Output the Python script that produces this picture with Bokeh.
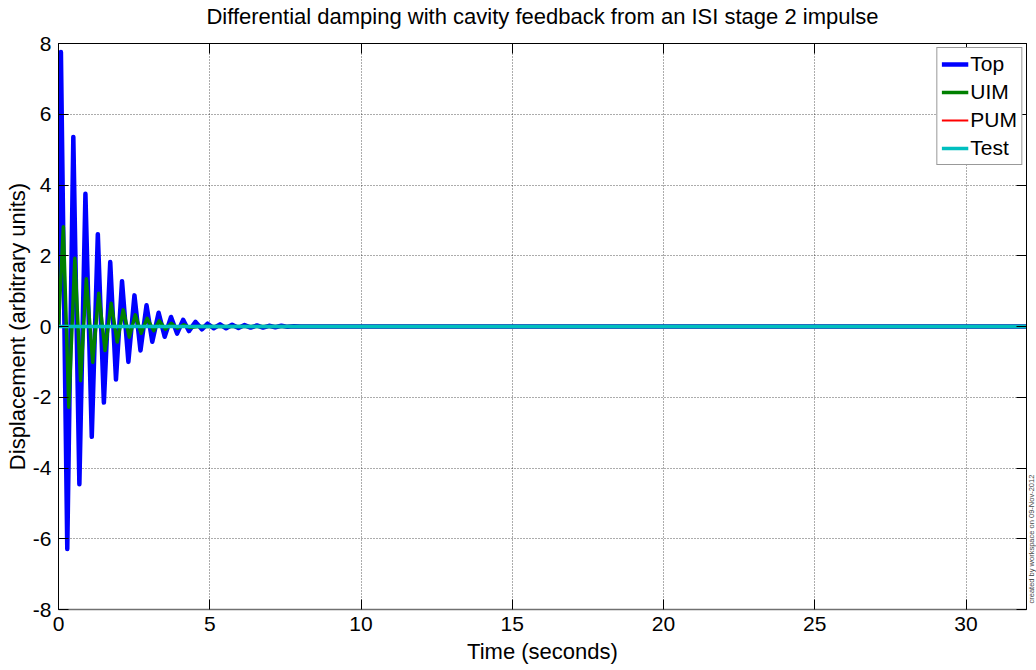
import math
from bokeh.plotting import figure
from bokeh.layouts import column, row
from bokeh.models import (Range1d, LinearAxis, FixedTicker, Legend, LegendItem,
                          Label, CustomJSTickFormatter)
from bokeh.embed import file_html
from bokeh.resources import INLINE

FONT = "Liberation Sans"

title_text = "Differential damping with cavity feedback from an ISI stage 2 impulse"
x_label = "Time (seconds)"
y_label = "Displacement (arbitrary units)"
stamp_text = "created by workspace on 09-Nov-2012"

x_ticks = [0, 5, 10, 15, 20, 25, 30]
y_ticks = [-8, -6, -4, -2, 0, 2, 4, 6, 8]

# Top mass: successive extrema
top_t = [0.0, 0.08, 0.29, 0.49, 0.69, 0.89, 1.10, 1.30, 1.50, 1.71, 1.90, 2.10, 2.31,
         2.51, 2.71, 2.91, 3.10, 3.31, 3.51, 3.72, 3.92, 4.12, 4.31, 4.53, 4.74,
         4.93, 5.13, 5.34, 5.54, 5.74, 5.95, 6.15, 6.35, 6.56, 6.76, 6.96, 7.17,
         7.37, 7.57, 7.78, 8.0, 32.0]
top_v = [0.0, 7.76, -6.29, 5.36, -4.46, 3.75, -3.12, 2.61, -2.15, 1.82, -1.50, 1.28,
         -1.00, 0.88, -0.68, 0.60, -0.43, 0.39, -0.29, 0.27, -0.20, 0.19, -0.13,
         0.13, -0.08, 0.08, -0.05, 0.06, -0.05, 0.05, -0.04, 0.04, -0.03, 0.03,
         -0.03, 0.02, -0.02, 0.02, -0.01, 0.01, 0.0, 0.0]

# UIM mass
uim_t = [0.0, 0.16, 0.34, 0.54, 0.73, 0.92, 1.13, 1.33, 1.54, 1.74, 1.94, 2.14, 2.34,
         2.54, 2.73, 2.93, 3.15, 3.33, 3.54, 3.73, 3.94, 4.14, 4.35, 4.6, 32.0]
uim_v = [0.0, 2.82, -2.28, 1.93, -1.53, 1.35, -1.01, 0.94, -0.68, 0.66, -0.44, 0.47,
         -0.30, 0.33, -0.19, 0.23, -0.12, 0.16, -0.08, 0.09, -0.05, 0.05, -0.03, 0.0, 0.0]

# PUM and Test masses stay at zero on this scale
pum_t = [0.0, 32.0]
pum_v = [0.0, 0.0]
test_t = [0.0, 32.0]
test_v = [0.0, 0.0]

TITLE_H = 30
MAIN_W, MAIN_H = 1027, 670 - TITLE_H
STAMP_W = 9

# ---- title strip -------------------------------------------------------
title_fig = figure(width=1036, height=TITLE_H, output_backend="svg",
                   toolbar_location=None, x_range=Range1d(0, 1), y_range=Range1d(0, 1),
                   x_axis_type=None, y_axis_type=None, min_border=0,
                   outline_line_color=None, background_fill_color="white",
                   border_fill_color="white")
title_fig.add_layout(Label(x=542 / 1036, y=(TITLE_H - 16) / TITLE_H, text=title_text,
                           text_font=FONT, text_font_size="22px",
                           text_align="center", text_baseline="middle",
                           text_color="black"))

# ---- main plot ----------------------------------------------------------
p = figure(width=MAIN_W, height=MAIN_H, output_backend="svg", toolbar_location=None,
           x_range=Range1d(0, 32), y_range=Range1d(-8, 8),
           min_border_left=58, min_border_right=1, min_border_top=43 - TITLE_H,
           min_border_bottom=61, background_fill_color="white",
           border_fill_color="white", outline_line_color="black")

r_top = p.line(top_t, top_v, line_color="#0000FF", line_width=4.5, line_join="round")
r_uim = p.line(uim_t, uim_v, line_color="#008000", line_width=3.5, line_join="round")
r_pum = p.line(pum_t, pum_v, line_color="#FF0000", line_width=2)
r_test = p.line(test_t, test_v, line_color="#00BFBF", line_width=3.5)

plain = CustomJSTickFormatter(code="return String(tick)")
for ax in (p.xaxis[0], p.yaxis[0]):
    ax.formatter = plain
    ax.major_label_text_font = FONT
    ax.major_label_text_font_size = "21px"
    ax.major_label_text_color = "black"
    ax.axis_label_text_font = FONT
    ax.axis_label_text_font_size = "22px"
    ax.axis_label_text_font_style = "normal"
    ax.axis_label_text_color = "black"
    ax.major_tick_in = 10
    ax.major_tick_out = 0
    ax.minor_tick_in = 0
    ax.minor_tick_out = 0
    ax.major_tick_line_color = "black"
    ax.axis_line_color = "black"

p.xaxis[0].ticker = FixedTicker(ticks=x_ticks)
p.yaxis[0].ticker = FixedTicker(ticks=y_ticks)
p.xaxis[0].axis_label = x_label
p.yaxis[0].axis_label = y_label
p.xaxis[0].major_label_standoff = 7
p.xaxis[0].axis_label_standoff = 5
p.yaxis[0].major_label_standoff = 7
p.yaxis[0].axis_label_standoff = 0
p.xaxis[0].axis_line_color = "#707070"
p.xaxis[0].axis_line_width = 1.5

blank = CustomJSTickFormatter(code="return ''")
for place, tk in (("above", x_ticks), ("right", y_ticks)):
    ax = LinearAxis(ticker=FixedTicker(ticks=tk), formatter=blank,
                    major_tick_in=10, major_tick_out=0, minor_tick_in=0,
                    minor_tick_out=0, major_label_standoff=0,
                    major_label_text_font_size="1px", axis_line_color="black")
    p.add_layout(ax, place)

p.xgrid.ticker = FixedTicker(ticks=x_ticks)
p.ygrid.ticker = FixedTicker(ticks=y_ticks)
for g in (p.xgrid[0], p.ygrid[0]):
    g.grid_line_color = "black"
    g.grid_line_alpha = 0.65
    g.grid_line_dash = "1 2"
    g.grid_line_width = 1

legend = Legend(items=[LegendItem(label="Top", renderers=[r_top]),
                       LegendItem(label="UIM", renderers=[r_uim]),
                       LegendItem(label="PUM", renderers=[r_pum]),
                       LegendItem(label="Test", renderers=[r_test])],
                location="top_right", margin=4, padding=4, spacing=4,
                label_height=20, glyph_height=20, glyph_width=27,
                label_standoff=2, label_text_font=FONT, label_text_font_size="21px",
                label_text_color="black", border_line_color="#333333",
                border_line_width=1, background_fill_color="white",
                background_fill_alpha=1.0)
p.add_layout(legend)

# ---- narrow strip with the vertical creation stamp ---------------------
stamp_fig = figure(width=STAMP_W, height=MAIN_H, output_backend="svg",
                   toolbar_location=None, x_range=Range1d(0, 1), y_range=p.y_range,
                   x_axis_type=None, y_axis_type=None, min_border=0,
                   outline_line_color=None, background_fill_color="white",
                   border_fill_color="white")
stamp_fig.add_layout(Label(x=0.4, y=-7.83, text=stamp_text, angle=math.pi / 2,
                           text_font=FONT, text_font_size="7.5px", text_align="left",
                           text_baseline="middle", text_color="#444444"))

layout = column(title_fig, row(p, stamp_fig, spacing=0), spacing=0)

open("out.html", "w").write(file_html(layout, INLINE))
